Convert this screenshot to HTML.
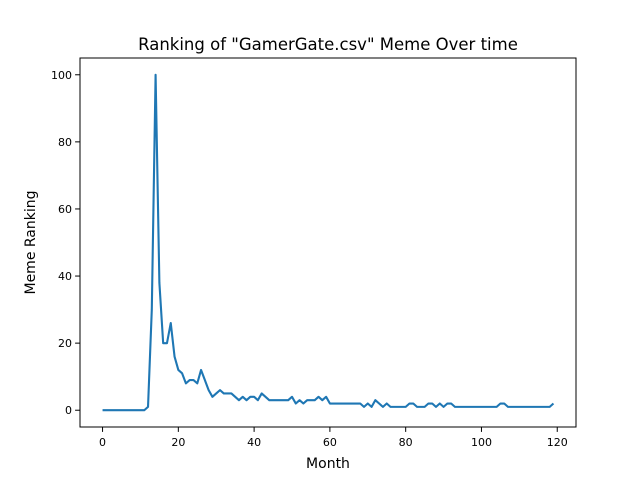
<!DOCTYPE html>
<html><head><meta charset="utf-8"><style>
body{margin:0;background:#fff}
svg text{font-family:"DejaVu Sans","Liberation Sans",sans-serif;fill:#000}
</style></head><body>
<svg id="chart" width="640" height="480">
<rect width="640" height="480" fill="#fff"/>
<text x="328" y="50" font-size="16.5" text-anchor="middle">Ranking of "GamerGate.csv" Meme Over time</text>
<text x="328" y="468" font-size="14" text-anchor="middle">Month</text>
<text transform="translate(35,242.5) rotate(-90)" font-size="14" text-anchor="middle">Meme Ranking</text>
<g id="ticks"></g>
<path id="line" fill="none" stroke="#1f77b4" stroke-width="2.1" stroke-linejoin="round"/>
<rect x="80" y="58" width="496" height="369" fill="none" stroke="#000" stroke-width="1"/>
</svg>
<script>
const values=[0,0,0,0,0,0,0,0,0,0,0,0,1,30,100,38,20,20,26,16,12,11,8,9,9,8,12,9,6,4,5,6,5,5,5,4,3,4,3,4,4,3,5,4,3,3,3,3,3,3,4,2,3,2,3,3,3,4,3,4,2,2,2,2,2,2,2,2,2,1,2,1,3,2,1,2,1,1,1,1,1,2,2,1,1,1,2,2,1,2,1,2,2,1,1,1,1,1,1,1,1,1,1,1,1,2,2,1,1,1,1,1,1,1,1,1,1,1,1,2];
const xTicks=[0,20,40,60,80,100,120];
const yTicks=[0,20,40,60,80,100];
const L=80,R=576,T=58,B=427;
const xmin=-5.95,xmax=124.95,ymin=-5,ymax=105;
const xs=v=>L+(v-xmin)/(xmax-xmin)*(R-L);
const ys=v=>B-(v-ymin)/(ymax-ymin)*(B-T);
const ns="http://www.w3.org/2000/svg";
const g=document.getElementById('ticks');
xTicks.forEach(t=>{
 const x=xs(t);
 const l=document.createElementNS(ns,'line');
 l.setAttribute('x1',x);l.setAttribute('x2',x);l.setAttribute('y1',B);l.setAttribute('y2',B+4.9);l.setAttribute('stroke','#000');
 
 
 g.appendChild(l);
 const tx=document.createElementNS(ns,'text');
 tx.setAttribute('x',x);tx.setAttribute('y',B+19);tx.setAttribute('font-size','11');tx.setAttribute('text-anchor','middle');tx.textContent=t;
 
 
 g.appendChild(tx);
});
yTicks.forEach(t=>{
 const y=ys(t);
 const l=document.createElementNS(ns,'line');
 l.setAttribute('x1',L-4.9);l.setAttribute('x2',L);l.setAttribute('y1',y);l.setAttribute('y2',y);l.setAttribute('stroke','#000');
 
 
 g.appendChild(l);
 const tx=document.createElementNS(ns,'text');
 tx.setAttribute('x',L-8);tx.setAttribute('y',y+4);tx.setAttribute('font-size','11');tx.setAttribute('text-anchor','end');tx.textContent=t;
 
 
 g.appendChild(tx);
});
document.getElementById('line').setAttribute('d',values.map((v,i)=>(i?'L':'M')+xs(i).toFixed(2)+','+ys(v).toFixed(2)).join(''));
</script>
</body></html>
